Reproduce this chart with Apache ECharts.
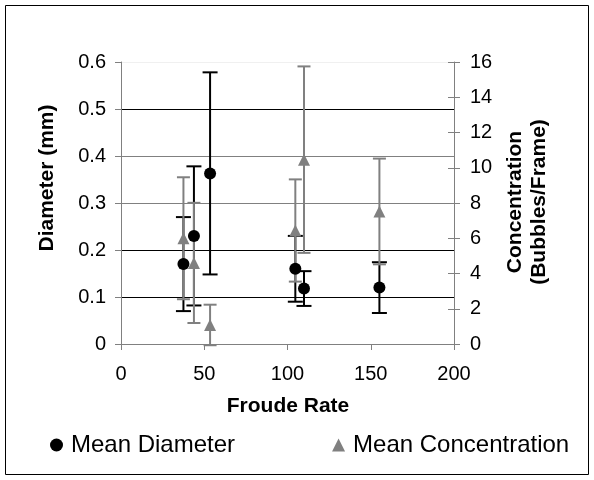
<!DOCTYPE html>
<html>
<head>
<meta charset="utf-8">
<script src="https://cdn.jsdelivr.net/npm/echarts@6/dist/echarts.min.js"></script>
<style>
html,body{margin:0;padding:0;background:#fff;}
#chart{width:594px;height:480px;}
</style>
</head>
<body>
<div id="chart"></div>
<script>
// ---- data ----
const froude = [37.5, 43.8, 53.5, 104.7, 109.9, 155.2];
const diameter = [0.17, 0.23, 0.363, 0.16, 0.118, 0.12];
const diameterErr = [0.10, 0.148, 0.215, 0.07, 0.037, 0.054];
const concentration = [6.0, 4.6, 1.08, 6.44, 10.46, 7.52];
const concentrationErr = [3.46, 3.41, 1.15, 2.9, 5.29, 3.0];
const xTicks = [0, 50, 100, 150, 200];
const diameterTicks = [0, 0.1, 0.2, 0.3, 0.4, 0.5, 0.6];
const concTicks = [0, 2, 4, 6, 8, 10, 12, 14, 16];
const seriesNames = ['Mean Diameter', 'Mean Concentration'];
const xTitle = 'Froude Rate';
const yTitle = 'Diameter (mm)';
const y2Title = 'Concentration\n(Bubbles/Frame)';

const FONT = '"Liberation Sans", Arial, sans-serif';
const GRAY = '#808080';

function rows(xs, ys, es) {
  return xs.map((x, i) => es ? [x, ys[i], es[i]] : [x, ys[i]]);
}

function errorBars(color, capW) {
  return function (params, api) {
    const x = api.value(0), y = api.value(1), e = api.value(2);
    const top = api.coord([x, y + e]);
    const bot = api.coord([x, y - e]);
    const hw = capW / 2;
    const style = { stroke: color, lineWidth: 2 };
    return {
      type: 'group',
      children: [
        { type: 'line', shape: { x1: top[0], y1: top[1], x2: bot[0], y2: bot[1] }, style },
        { type: 'line', shape: { x1: top[0] - hw, y1: top[1], x2: top[0] + hw, y2: top[1] }, style },
        { type: 'line', shape: { x1: bot[0] - hw, y1: bot[1], x2: bot[0] + hw, y2: bot[1] }, style }
      ]
    };
  };
}

const chart = echarts.init(document.getElementById('chart'), null, { renderer: 'canvas' });

const gridColors = ['#000', '#000', '#000', GRAY, GRAY, '#000', 'rgba(0,0,0,0.06)'];

chart.setOption({
  animation: false,
  backgroundColor: '#fff',
  textStyle: { fontFamily: FONT },
  grid: { left: 121, right: 140, top: 62, bottom: 136, containLabel: false },
  xAxis: {
    type: 'value',
    min: xTicks[0], max: xTicks[xTicks.length - 1], interval: xTicks[1] - xTicks[0],
    axisLine: { lineStyle: { color: GRAY, width: 1 } },
    axisTick: { show: true, length: 6, lineStyle: { color: GRAY } },
    axisLabel: { color: '#000', fontSize: 20, fontFamily: FONT, margin: 20 },
    splitLine: { show: false }
  },
  yAxis: [
    {
      type: 'value', position: 'left',
      min: diameterTicks[0], max: diameterTicks[diameterTicks.length - 1],
      interval: 0.1,
      axisLine: { show: true, lineStyle: { color: GRAY, width: 1 } },
      axisTick: { show: true, length: 6, lineStyle: { color: GRAY } },
      axisLabel: { color: '#000', fontSize: 20, fontFamily: FONT, margin: 15,
        formatter: v => (Math.round(v * 10) / 10).toString() },
      splitLine: { show: true, lineStyle: { color: gridColors, width: 1 } }
    },
    {
      type: 'value', position: 'right',
      min: concTicks[0], max: concTicks[concTicks.length - 1], interval: 2,
      axisLine: { show: true, lineStyle: { color: GRAY, width: 1 } },
      axisTick: { show: true, length: 6, lineStyle: { color: GRAY } },
      axisLabel: { color: '#000', fontSize: 20, fontFamily: FONT, margin: 16 },
      splitLine: { show: false }
    },
    {
      type: 'value', position: 'right',
      min: concTicks[0], max: concTicks[concTicks.length - 1], interval: 2,
      axisLine: { show: false },
      axisTick: { show: true, inside: true, length: 6, lineStyle: { color: GRAY } },
      axisLabel: { show: false },
      splitLine: { show: false }
    }
  ],
  legend: {
    left: 45, top: 428,
    itemWidth: 13, itemHeight: 13, itemGap: 97,
    textStyle: { fontSize: 24, fontFamily: FONT, color: '#000', padding: [0, 0, 0, 3] },
    data: [
      { name: seriesNames[0], icon: 'circle', itemStyle: { color: '#000' } },
      { name: seriesNames[1], icon: 'triangle', itemStyle: { color: GRAY } }
    ]
  },
  graphic: [
    { type: 'rect', shape: { x: 5.5, y: 5.5, width: 583, height: 469 },
      style: { fill: 'none', stroke: '#000', lineWidth: 1 }, z: 100 },
    { type: 'text', x: 47, y: 178, rotation: Math.PI / 2,
      style: { text: yTitle, font: 'bold 21px ' + FONT, fill: '#000', align: 'center', verticalAlign: 'middle' } },
    { type: 'text', x: 527, y: 202, rotation: Math.PI / 2,
      style: { text: y2Title, font: 'bold 21px ' + FONT, fill: '#000', align: 'center', verticalAlign: 'middle', lineHeight: 24 } },
    { type: 'text', x: 288, y: 406,
      style: { text: xTitle, font: 'bold 21px ' + FONT, fill: '#000', align: 'center', verticalAlign: 'middle' } }
  ],
  series: [
    {
      name: seriesNames[0] + ' err', type: 'custom', yAxisIndex: 0, z: 2, clip: false,
      renderItem: errorBars('#000', 15),
      encode: { x: 0, y: 1 },
      data: rows(froude, diameter, diameterErr)
    },
    {
      name: seriesNames[1] + ' err', type: 'custom', yAxisIndex: 1, z: 3, clip: false,
      renderItem: errorBars(GRAY, 13),
      encode: { x: 0, y: 1 },
      data: rows(froude, concentration, concentrationErr)
    },
    {
      name: seriesNames[0], type: 'scatter', yAxisIndex: 0, z: 4,
      symbol: 'circle', symbolSize: 12,
      itemStyle: { color: '#000', opacity: 1 },
      data: rows(froude, diameter)
    },
    {
      name: seriesNames[1], type: 'scatter', yAxisIndex: 1, z: 5,
      symbol: 'triangle', symbolSize: 12,
      itemStyle: { color: GRAY, opacity: 1 },
      data: rows(froude, concentration)
    }
  ]
});
</script>
</body>
</html>
